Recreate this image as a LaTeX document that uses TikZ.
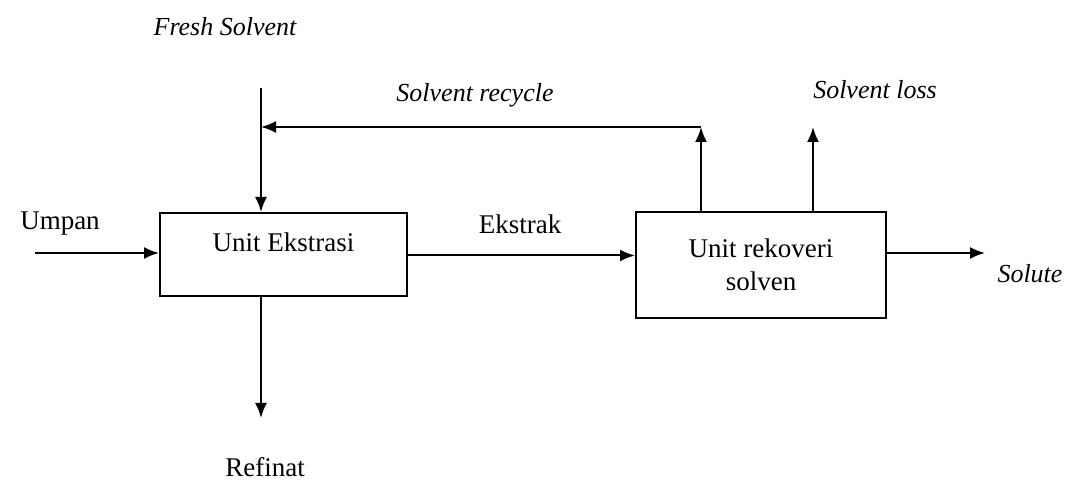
\documentclass[tikz,border=0pt]{standalone}
\usepackage{fontspec}
\setmainfont{Liberation Serif}
\usetikzlibrary{arrows.meta,positioning}
\begin{document}
\begin{tikzpicture}[
    x=0.5pt, y=-0.5pt,
    >={Latex[length=7.5pt,width=6pt]},
    line width=1pt,
    font=\fontsize{13.5}{16.5}\selectfont,
    unit/.style={
		rectangle,
		draw=black,
		line width=1pt,
		inner sep=0pt,
		align=center
	},
	stream/.style={
		font=\fontsize{13}{16}\selectfont\itshape
	}
  ]
  \useasboundingbox (0,0) rectangle (1070,490);
    % We start by placing the blocks

  \node [unit, minimum width=123.5pt, minimum height=41.5pt] (ekstrasi) at (283.5,254.5) {};
  \node [below=15pt of ekstrasi.north, anchor=center] (ekstrasilbl) {Unit Ekstrasi};

  \node [unit, minimum width=125pt, minimum height=53pt] (rekoveri) at (761,265)
 {Unit rekoveri\\solven};

 % free ends of the streams
 \coordinate (umpanin) at (35,253);
 \coordinate (freshin) at (261,88);
 \coordinate (refinatout) at (261,418);
 \coordinate (recyclebend) at (701,127);
 \coordinate (lossout) at (813,127);
 \coordinate (soluteout) at (985,253);

 \draw [->] (umpanin) -- (umpanin -| ekstrasi.west);
 \draw [->] ([yshift=-0.5pt]ekstrasi.east) -- ([yshift=-0.5pt]ekstrasi.east -| rekoveri.west);
 \draw [->] (rekoveri.east |- soluteout) -- (soluteout);
 \draw [->] (freshin) -- (freshin |- ekstrasi.north);
 \draw [->] (refinatout |- ekstrasi.south) -- (refinatout);
 \draw [->] (recyclebend |- rekoveri.north) -- (recyclebend);
 \draw [->] (recyclebend) -- (recyclebend -| freshin);
 \draw [->] (lossout |- rekoveri.north) -- (lossout);

 % stream labels
 \node (umpanlbl) at (60,224) {Umpan};
 \node (ekstraklbl) at (520,224) {Ekstrak};
 \node (refinatlbl) at (265,467) {Refinat};
 \node [stream] (freshlbl) at (225,27) {Fresh Solvent};
 \node [stream] (recyclelbl) at (475,95) {Solvent recycle};
 \node [stream] (losslbl) at (875,90) {Solvent loss};
 \node [stream] (solutelbl) at (1030,274) {Solute};

\end{tikzpicture}
\end{document}
